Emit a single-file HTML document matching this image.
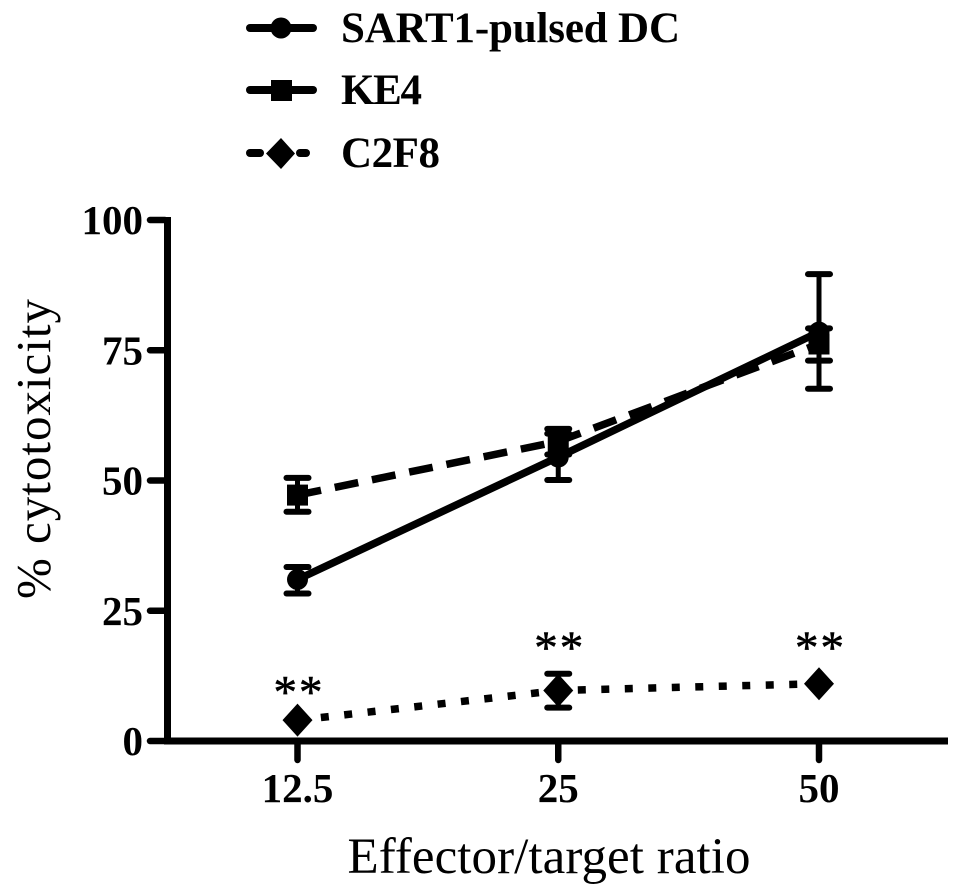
<!DOCTYPE html>
<html>
<head>
<meta charset="utf-8">
<style>
html,body{margin:0;padding:0;background:#fff;}
svg{display:block;}
text{font-family:"Liberation Serif",serif;fill:#000;}
.b{font-weight:bold;}
</style>
</head>
<body>
<svg id="chart" width="963" height="894" viewBox="0 0 963 894" xmlns="http://www.w3.org/2000/svg">
<rect width="963" height="894" fill="#fff"/>
<g id="legend">
<g>
<line x1="250" y1="28" x2="313" y2="28" stroke="#000" stroke-width="8" stroke-linecap="round"/>
<circle cx="281" cy="28" r="10.5" fill="#000"/>
<text class="b" x="341" y="42" font-size="43" textLength="339" lengthAdjust="spacing">SART1-pulsed DC</text>
</g>
<g>
<line x1="250" y1="90" x2="313" y2="90" stroke="#000" stroke-width="8" stroke-linecap="round"/>
<rect x="271" y="80" width="21" height="21" fill="#000"/>
<text class="b" x="341" y="104" font-size="43" textLength="81" lengthAdjust="spacing">KE4</text>
</g>
<g>
<line x1="250" y1="153" x2="260" y2="153" stroke="#000" stroke-width="8" stroke-linecap="round"/>
<line x1="300" y1="153" x2="306" y2="153" stroke="#000" stroke-width="8" stroke-linecap="round"/>
<polygon points="281,138 295,153.5 281,169 266,153.5" fill="#000"/>
<text class="b" x="341" y="167" font-size="43" textLength="99" lengthAdjust="spacing">C2F8</text>
</g>
</g>
<g id="plot"></g>
<text x="549" y="873" font-size="51" text-anchor="middle" textLength="403" lengthAdjust="spacing">Effector/target ratio</text>
<text transform="translate(50,449) rotate(-90)" font-size="49" text-anchor="middle" textLength="300" lengthAdjust="spacing">% cytotoxicity</text>
</svg>
<script>
const categories = ['12.5', '25', '50'];
const yTicks = [0, 25, 50, 75, 100];
const sart1Mean = [31, 54.5, 78.5];
const sart1Upper = [33.4, 59, 89.6];
const sart1Lower = [28.3, 50.1, 67.6];
const ke4Mean = [47.2, 57.5, 76.2];
const ke4Upper = [50.5, 59.9, 79.2];
const ke4Lower = [44, 55, 73];
const c2f8Mean = [4, 9.7, 11];
const c2f8Upper = [4, 12.9, 11];
const c2f8Lower = [4, 6.4, 11];
const starLevels = [10.5, 19, 19];

const NS = 'http://www.w3.org/2000/svg';
const plot = document.getElementById('plot');
function sx(i) { return 297.5 + 260.75 * i; }
function sy(v) { return 741 - 5.21 * v; }
function mk(tag, attrs, parent) {
  const el = document.createElementNS(NS, tag);
  for (const k in attrs) el.setAttribute(k, attrs[k]);
  (parent || plot).appendChild(el);
  return el;
}

// axes
const yAxis = mk('line', {x1: 167.5, y1: sy(100) - 3, x2: 167.5, y2: sy(0) + 3.5, stroke: '#000', 'stroke-width': 7});


const xAxis = mk('line', {x1: 164, y1: sy(0), x2: 948, y2: sy(0), stroke: '#000', 'stroke-width': 7});



yTicks.forEach(function (t) {
  const tick = mk('line', {x1: 150, y1: sy(t), x2: 165, y2: sy(t), stroke: '#000', 'stroke-width': 6.5, 'stroke-linecap': 'round'});
  
  
  const lab = mk('text', {x: 143, y: sy(t) + 14, 'font-size': 41, 'text-anchor': 'end', 'class': 'b'});
  
  
  lab.textContent = t;
});
categories.forEach(function (c, i) {
  const tick = mk('line', {x1: sx(i), y1: sy(0) + 2, x2: sx(i), y2: sy(0) + 19, stroke: '#000', 'stroke-width': 6.5, 'stroke-linecap': 'round'});
  
  
  const lab = mk('text', {x: sx(i), y: 802, 'font-size': 41, 'text-anchor': 'middle', 'class': 'b'});
  
  
  lab.textContent = c;
});

function drawSeries(name, mean, upper, lower, dash, marker) {
  const g = mk('g', {});
  
  
  const pts = mean.map(function (v, i) { return sx(i) + ',' + sy(v); }).join(' ');
  const attrs = {points: pts, fill: 'none', stroke: '#000', 'stroke-width': 7.5};
  if (dash) attrs['stroke-dasharray'] = dash;
  const line = mk('polyline', attrs, g);
  
  
  mean.forEach(function (v, i) {
    const x = sx(i), y = sy(v);
    if (upper[i] !== lower[i] && upper[i] !== v) {
      const stem = mk('line', {x1: x, y1: sy(upper[i]), x2: x, y2: sy(lower[i]), stroke: '#000', 'stroke-width': 5}, g);
      
      
      [upper[i], lower[i]].forEach(function (e) {
        const cap = mk('line', {x1: x - 11, y1: sy(e), x2: x + 11, y2: sy(e), stroke: '#000', 'stroke-width': 6, 'stroke-linecap': 'round'}, g);
        
        
      });
    }
    let m;
    if (marker === 'circle') m = mk('circle', {cx: x, cy: y, r: 10.5, fill: '#000'}, g);
    if (marker === 'square') m = mk('rect', {x: x - 10.5, y: y - 10.5, width: 21, height: 21, fill: '#000'}, g);
    if (marker === 'diamond') m = mk('polygon', {points: [x, y - 16.5, x + 15, y, x, y + 16.5, x - 15, y].join(','), fill: '#000'}, g);
    
    
  });
}
drawSeries('c2f8', c2f8Mean, c2f8Upper, c2f8Lower, '8 15.5', 'diamond');
drawSeries('ke4', ke4Mean, ke4Upper, ke4Lower, '24 14', 'square');
drawSeries('sart1', sart1Mean, sart1Upper, sart1Lower, null, 'circle');

starLevels.forEach(function (lvl, i) {
  const s = mk('text', {x: sx(i) + 1.5, y: sy(lvl) + 21, 'font-size': 47, 'text-anchor': 'middle', 'letter-spacing': 2, stroke: '#000', 'stroke-width': 0.6});
  
  
  s.textContent = '**';
});
</script>
</body>
</html>
